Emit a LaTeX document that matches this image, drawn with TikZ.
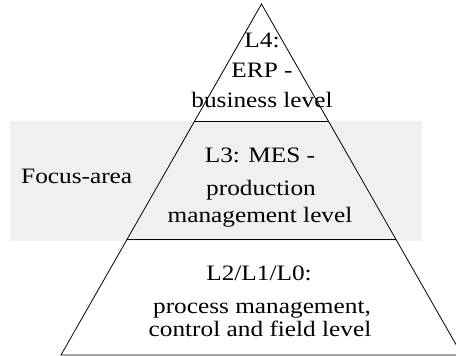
\documentclass[tikz,border=0pt]{standalone}
\usepackage{fontspec}
\setmainfont{Liberation Serif}[FakeStretch=1.15]
\usetikzlibrary{calc}

\tikzset{
    lvltext/.style={anchor=base, inner sep=0pt, font=\fontsize{22}{24}\selectfont},
    focusbox/.style={fill=black!6, draw=none},
    pyramid/.style={draw=black, line width=0.8pt, line join=miter}
}

\begin{document}
\begin{tikzpicture}[x=1pt,y=-1pt]
    \useasboundingbox (0,0) rectangle (456,356);
    \clip (0,0) rectangle (456,356);

    % corners of the pyramid
    \coordinate (top) at (261.5,4);
    \coordinate (bl) at (61,355);
    \coordinate (br) at (462,355);

    % grey band behind the middle level
    \fill[focusbox] (10,121) rectangle (422,241);

    \draw[pyramid] (top) -- (bl) -- (br) -- cycle;
    \draw[pyramid] ($(top)!0.3333!(bl)$) -- ($(top)!0.3333!(br)$);
    \draw[pyramid] ($(top)!0.6695!(bl)$) -- ($(top)!0.6695!(br)$);

    % L4
    \node[lvltext] (erptitle) at (262,47) {L4:};
    \node[lvltext] (erpname) at (262,77) {ERP -};
    \node[lvltext] (erplevel) at (262,107) {business level};

    % L3
    \node[lvltext] (mestitle) at (260,162) {L3: MES -};
    \node[lvltext] (mesname) at (261,195) {production};
    \node[lvltext] (meslevel) at (260,222) {management level};

    % L2/L1/L0
    \node[lvltext] (fieldtitle) at (259,280.5) {L2/L1/L0:};
    \node[lvltext] (fieldname) at (262,313) {process management,};
    \node[lvltext] (fieldlevel) at (260,336) {control and field level};

    \node[lvltext, anchor=base west] (focus) at (21,183) {Focus-area};
\end{tikzpicture}
\end{document}
